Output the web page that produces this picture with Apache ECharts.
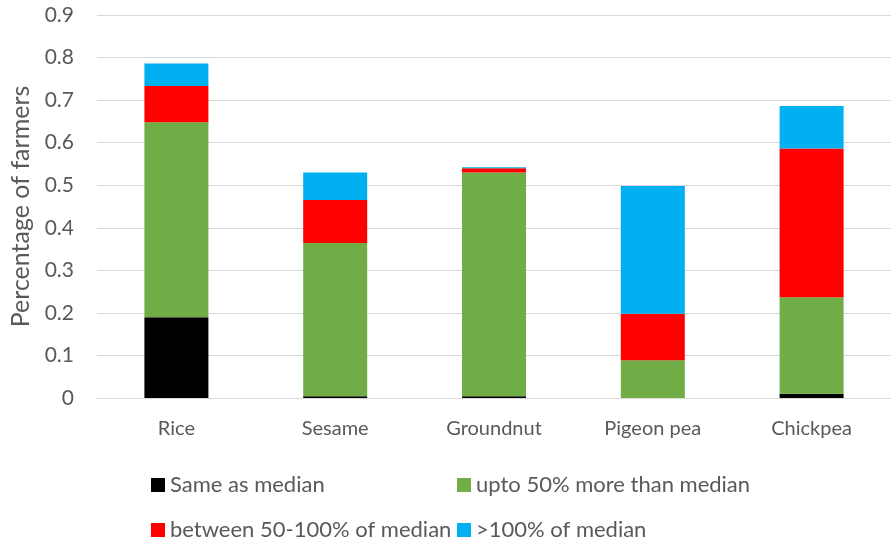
<!DOCTYPE html>
<html>
<head>
<meta charset="utf-8">
<script src="https://cdn.jsdelivr.net/npm/echarts@6/dist/echarts.min.js"></script>
<style>
  html, body { margin: 0; padding: 0; background: #ffffff; }
  #chart { width: 891px; height: 541px; }
</style>
</head>
<body>
<div id="chart"></div>
<script>
// Crops and the share of farmers in each price band relative to the median
const categories = ['Rice', 'Sesame', 'Groundnut', 'Pigeon pea', 'Chickpea'];
const sameAsMedian = [0.19, 0.004, 0.004, 0, 0.01];
const upTo50More = [0.458, 0.36, 0.526, 0.089, 0.227];
const between50to100 = [0.085, 0.101, 0.01, 0.109, 0.349];
const over100 = [0.053, 0.065, 0.002, 0.30, 0.10];
const yTicks = [0, 0.1, 0.2, 0.3, 0.4, 0.5, 0.6, 0.7, 0.8, 0.9];

const seriesNames = [
  'Same as median',
  'upto 50% more than median',
  'between 50-100% of median',
  '>100% of median'
];
const seriesValues = [sameAsMedian, upTo50More, between50to100, over100];
const seriesColors = ['#000000', '#70ad47', '#ff0000', '#00b0f0'];

const textColor = '#595959';
const fontFamily = 'Lato, "Liberation Sans", sans-serif';

const chart = echarts.init(document.getElementById('chart'), null, { renderer: 'canvas' });

// Legend laid out as a 2x2 block: one small legend per entry
const legendSlots = [
  { left: 151, top: 474 },
  { left: 457, top: 474 },
  { left: 151, top: 519 },
  { left: 457, top: 519 }
];
const legends = seriesNames.map(function (name, i) {
  return {
    left: legendSlots[i].left,
    top: legendSlots[i].top,
    padding: 0,
    itemWidth: 14, itemHeight: 14, icon: 'rect',
    textStyle: { color: textColor, fontSize: 22, fontFamily: fontFamily, lineHeight: 14 },
    data: [name]
  };
});

chart.setOption({
  animation: false,
  backgroundColor: '#ffffff',
  grid: { left: 97, right: -9, top: 15, bottom: 143, containLabel: false },
  legend: legends,
  xAxis: {
    type: 'category',
    data: categories,
    axisLine: { show: true, lineStyle: { color: '#d9d9d9', width: 1 } },
    axisTick: { show: false },
    axisLabel: { color: textColor, fontSize: 20, fontFamily: fontFamily, margin: 21 }
  },
  yAxis: {
    type: 'value',
    min: yTicks[0],
    max: yTicks[yTicks.length - 1],
    interval: 0.1,
    name: 'Percentage of farmers',
    nameLocation: 'middle',
    nameGap: 50,
    nameTextStyle: { color: textColor, fontSize: 25, fontFamily: fontFamily },
    axisLine: { show: false },
    axisTick: { show: false },
    splitLine: { show: true, lineStyle: { color: '#d9d9d9', width: 1 } },
    axisLabel: {
      color: textColor, fontSize: 21, fontFamily: fontFamily, margin: 23,
      formatter: function (v) { return String(Math.round(v * 10) / 10); }
    }
  },
  series: seriesValues.map(function (vals, i) {
    return {
      name: seriesNames[i],
      type: 'bar',
      stack: 'total',
      barWidth: 64,
      data: vals,
      itemStyle: { color: seriesColors[i] }
    };
  })
});
</script>
</body>
</html>
